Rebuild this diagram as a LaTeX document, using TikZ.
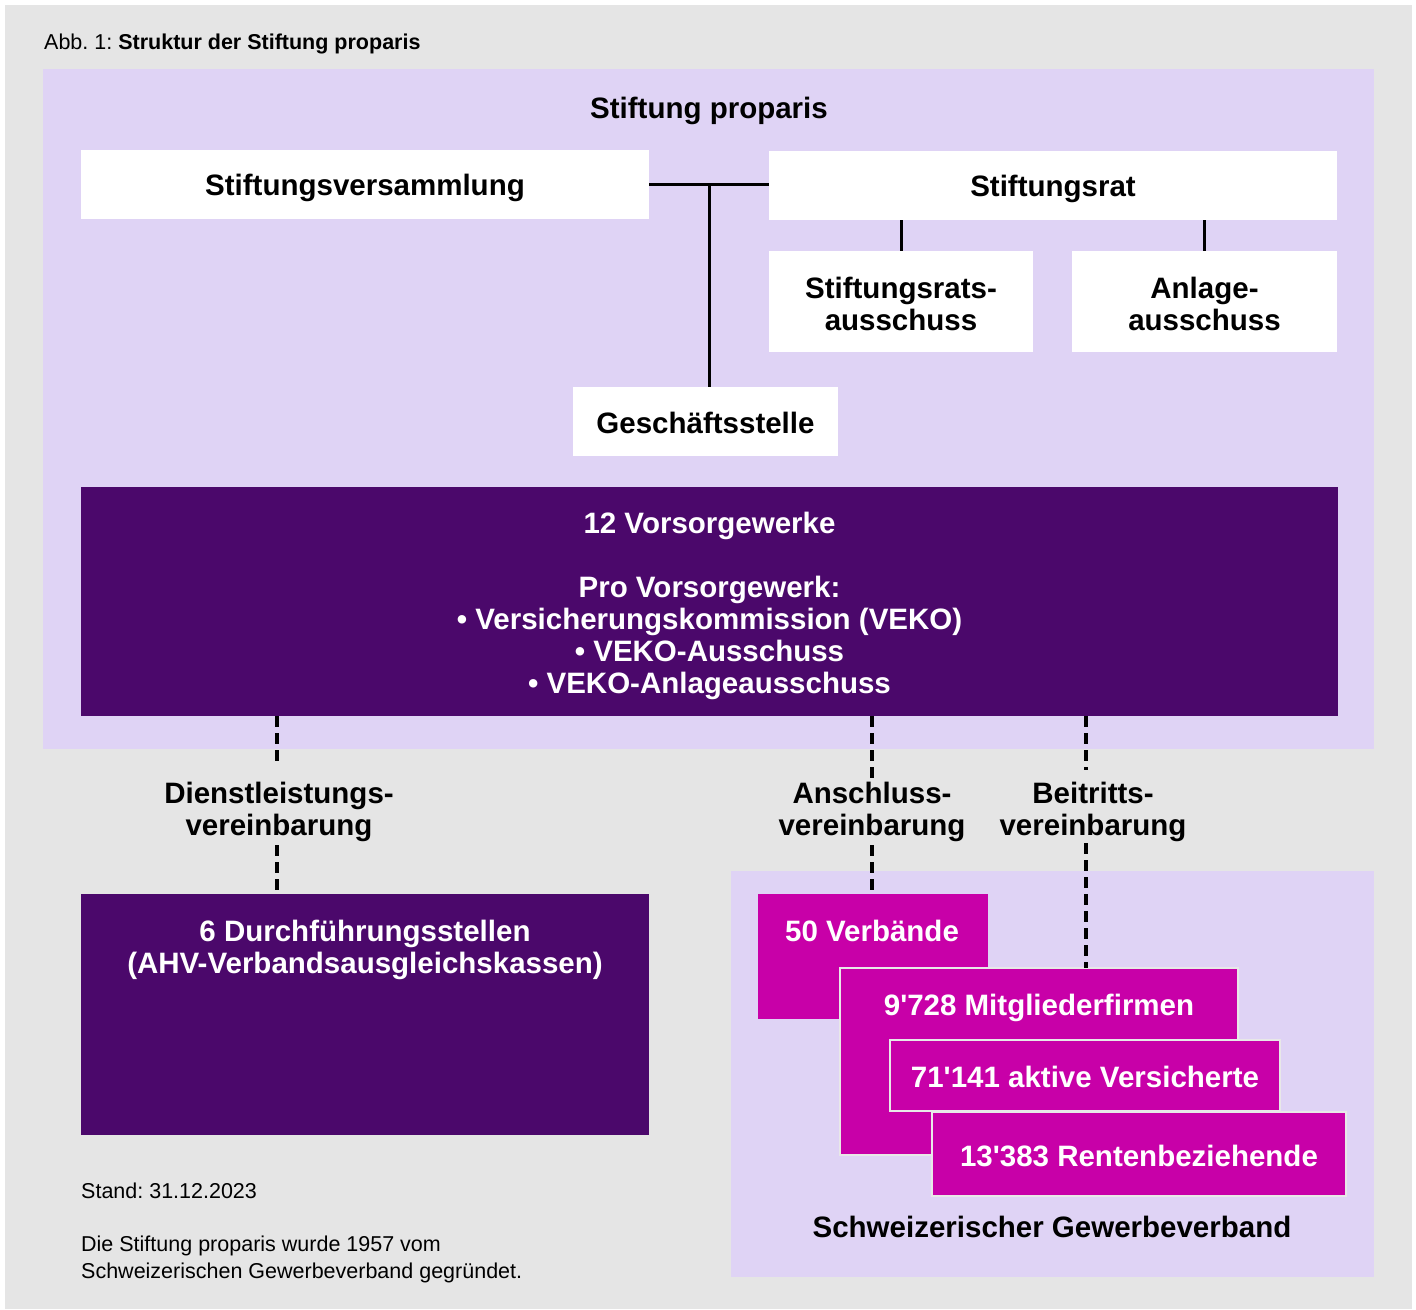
\documentclass[tikz,border=0pt]{standalone}
\usepackage{fontspec}
\setmainfont{Liberation Sans}[Ligatures=TeXOff]
\frenchspacing
\definecolor{bggray}{HTML}{E5E5E5}
\definecolor{lav}{HTML}{DFD3F5}
\definecolor{dpurple}{HTML}{4B086B}
\definecolor{mag}{HTML}{C800A8}
\definecolor{mborder}{HTML}{E8E8E8}
\begin{document}
\begin{tikzpicture}[x=1pt,y=-1pt,
  big/.style={font=\fontsize{29.5}{32}\selectfont\bfseries, align=center, inner sep=0pt},
  wbox/.style={fill=white, inner sep=0pt},
  pbox/.style={fill=dpurple, inner sep=0pt},
  mbox/.style={fill=mag, draw=mborder, line width=2pt, inner sep=0pt},
  wtext/.style={big, text=white},
  conn/.style={line width=3pt, black},
  dconn/.style={line width=3.5pt, black, dash pattern=on 11pt off 6pt},
  small/.style={font=\fontsize{21.5}{27}\selectfont, align=left, inner sep=0pt}
]
\useasboundingbox (0,0) rectangle (1416,1309);
\fill[white] (0,0) rectangle (1416,1309);
\fill[bggray] (5,5) rectangle (1412,1309);
\fill[lav] (43,69) rectangle (1374,749);
\fill[lav] (731,871) rectangle (1374,1277);

\node[small, anchor=base west] (title) at (44,49) {Abb. 1: \textbf{Struktur der Stiftung proparis}};
\node[big, anchor=base] (stp) at (709,118) {Stiftung proparis};

% white boxes
\node[wbox, minimum width=568pt, minimum height=69pt] (sv) at (365,184.5) {};
\node[big, anchor=base] (svt) at (365,195.5) {Stiftungsversammlung};
\node[wbox, minimum width=568pt, minimum height=69pt] (sr) at (1053,185.5) {};
\node[big, anchor=base] (srt) at (1053,196.5) {Stiftungsrat};
\node[wbox, minimum width=264pt, minimum height=101pt] (sra) at (901,301.5) {};
\node[big, anchor=base] (srat) at (901,330.5) {Stiftungsrats-\\ausschuss};
\node[wbox, minimum width=265pt, minimum height=101pt] (aa) at (1204.5,301.5) {};
\node[big, anchor=base] (aat) at (1204.5,330.5) {Anlage-\\ausschuss};
\node[wbox, minimum width=265pt, minimum height=69pt] (gs) at (705.5,421.5) {};
\node[big, anchor=base] (gst) at (705.5,433.5) {Geschäftsstelle};

% connectors
\coordinate (j) at (709,184.5);
\draw[conn] (sv.east) -- (sr.west |- sv.east);
\draw[conn] (j) -- (j |- gs.north);
\draw[conn] (sra.north) -- (sra.north |- sr.south);
\draw[conn] (aa.north) -- (aa.north |- sr.south);

% Vorsorgewerke
\node[pbox, minimum width=1257pt, minimum height=229pt] (vw) at (709.5,601.5) {};
\node[wtext, anchor=base] (vwt) at (709.5,693.5) {12 Vorsorgewerke\\[32pt]Pro Vorsorgewerk:\\• Versicherungskommission (VEKO)\\• VEKO-Ausschuss\\• VEKO-Anlageausschuss};

% Durchfuehrungsstellen
\node[pbox, minimum width=568pt, minimum height=241pt] (ds) at (365,1014.5) {};
\node[wtext, anchor=base] (dst) at (365,973.5) {6 Durchführungsstellen\\(AHV-Verbandsausgleichskassen)};

% magenta stack
\node[fill=mag, inner sep=0pt, minimum width=230pt, minimum height=125pt] (verb) at (873,956.5) {};
\node[wtext, anchor=base] (verbt) at (872,941) {50 Verbände};
\node[mbox, minimum width=398pt, minimum height=187pt] (mf) at (1039,1061.5) {};
\node[wtext, anchor=base] (mft) at (1039,1015) {9'728 Mitgliederfirmen};
\node[mbox, minimum width=390pt, minimum height=71pt] (av) at (1085,1075.5) {};
\node[wtext, anchor=base] (avt) at (1085,1087) {71'141 aktive Versicherte};
\node[mbox, minimum width=414pt, minimum height=84pt] (rb) at (1139,1154) {};
\node[wtext, anchor=base] (rbt) at (1139,1166) {13'383 Rentenbeziehende};
\node[big, anchor=base] (sgv) at (1052,1237) {Schweizerischer Gewerbeverband};

% agreement labels
\node[big, anchor=base] (dl) at (279,835.5) {Dienstleistungs-\\vereinbarung};
\node[big, anchor=base] (al) at (872,835.5) {Anschluss-\\vereinbarung};
\node[big, anchor=base] (bl) at (1093,835.5) {Beitritts-\\vereinbarung};

% dashed connectors
\coordinate (d1a) at (277,765);
\coordinate (d1b) at (277,845);
\coordinate (d2a) at (872,778);
\coordinate (d2b) at (872,845);
\coordinate (d3a) at (1086,770);
\coordinate (d3b) at (1086,843);
\draw[dconn] (vw.south -| d1a) -- (d1a);
\draw[dconn] (d1b) -- (ds.north -| d1b);
\draw[dconn] (vw.south -| d2a) -- (d2a);
\draw[dconn] (d2b) -- (verb.north -| d2b);
\draw[dconn] (vw.south -| d3a) -- (d3a);
\draw[dconn] (d3b) -- ([yshift=-1pt]mf.north -| d3b);

% notes
\node[small, anchor=base west] (stand) at (81,1198) {Stand: 31.12.2023};
\node[small, anchor=base west] (note) at (81,1278) {Die Stiftung proparis wurde 1957 vom\\Schweizerischen Gewerbeverband gegründet.};
\end{tikzpicture}
\end{document}
